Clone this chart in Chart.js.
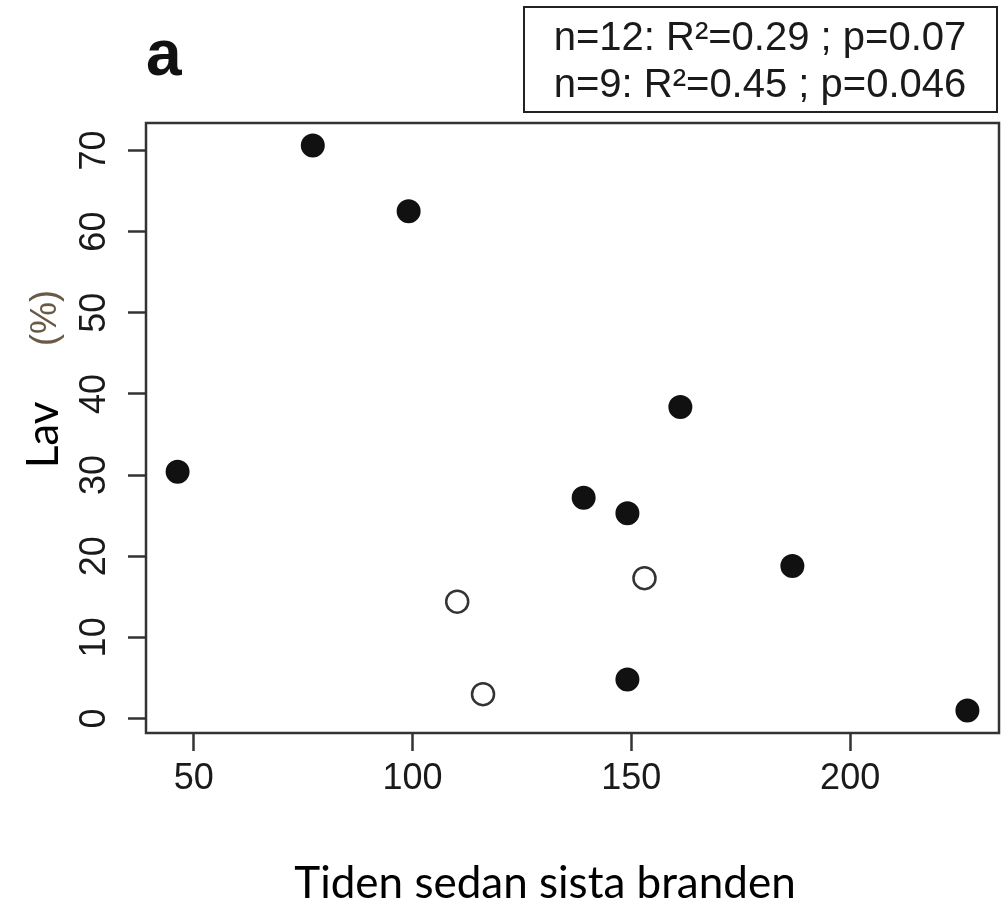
<!DOCTYPE html>
<html>
<head>
<meta charset="utf-8">
<script src="https://cdn.jsdelivr.net/npm/chart.js@4.4.1/dist/chart.umd.min.js"></script>
<style>
  body { margin: 0; background: #fff; }
  canvas { display: block; }
</style>
</head>
<body>
<canvas id="myChart" width="1002" height="906"></canvas>
<script>
// brandfria ytor (fyllda) och ytor med brand (ofyllda)
var filledX = [46.3, 77.2, 99.1, 139.1, 149.1, 149.1, 161.2, 186.8, 226.8];
var filledY = [30.4, 70.6, 62.5, 27.2, 25.3, 4.8, 38.4, 18.8, 1.0];
var openX = [110.2, 116.1, 153.0];
var openY = [14.4, 3.0, 17.3];

var xTicks = [50, 100, 150, 200];
var yTicks = [0, 10, 20, 30, 40, 50, 60, 70];

var statLines = ['n=12: R\u00B2=0.29 ; p=0.07', 'n=9: R\u00B2=0.45 ; p=0.046'];
var panelLabel = 'a';
var xTitle = 'Tiden sedan sista branden';
var yTitle = 'Lav';
var yUnit = '(%)';

function toPoints(xs, ys) {
    var pts = [];
    for (var i = 0; i < xs.length; i++) pts.push({ x: xs[i], y: ys[i] });
    return pts;
}

// R-liknande axelgränser (4 % utökning)
function rRange(vals) {
    var mn = Math.min.apply(null, vals), mx = Math.max.apply(null, vals);
    var d = (mx - mn) * 0.04;
    return [mn - d, mx + d];
}
var xr = rRange(filledX.concat(openX));
var yr = rRange(filledY.concat(openY));

var lineCol = '#333333';
var textCol = '#1a1a1a';

var extrasPlugin = {
    id: 'extras',
    afterDraw: function (chart) {
        var ctx = chart.ctx;
        var a = chart.chartArea;
        var ys = chart.scales.y;
        ctx.save();
        // ram runt plottytan
        ctx.strokeStyle = lineCol;
        ctx.lineWidth = 2.5;
        ctx.strokeRect(a.left, a.top, a.right - a.left, a.bottom - a.top);

        // y-tick-etiketter (roterade som i R)
        ctx.fillStyle = textCol;
        ctx.font = '36px "Liberation Sans", Arial, sans-serif';
        ctx.textAlign = 'center';
        ctx.textBaseline = 'alphabetic';
        yTicks.forEach(function (v) {
            var py = ys.getPixelForValue(v);
            ctx.save();
            ctx.translate(105, py);
            ctx.rotate(-Math.PI / 2);
            ctx.fillText(String(v), 0, 0);
            ctx.restore();
        });

        // y-titel
        ctx.save();
        ctx.translate(58, 435);
        ctx.rotate(-Math.PI / 2);
        ctx.font = '44px Lato, "Open Sans", sans-serif';
        ctx.fillStyle = '#000';
        ctx.fillText(yTitle, 0, 0);
        ctx.restore();

        ctx.save();
        ctx.translate(56, 318);
        ctx.rotate(-Math.PI / 2);
        ctx.font = '36px "Liberation Sans", Arial, sans-serif';
        ctx.fillStyle = '#6a5a45';
        ctx.fillText(yUnit, 0, 0);
        ctx.restore();

        // x-titel
        ctx.font = '44px Lato, "Open Sans", sans-serif';
        ctx.fillStyle = '#000';
        ctx.textAlign = 'center';
        ctx.fillText(xTitle, 545, 898);

        // panelbokstav
        ctx.font = 'bold 64px "Liberation Sans", Arial, sans-serif';
        ctx.fillStyle = '#111';
        ctx.textAlign = 'left';
        ctx.fillText(panelLabel, 146, 75);

        // statistikruta
        ctx.fillStyle = '#fff';
        ctx.fillRect(524, 7, 473, 105);
        ctx.strokeStyle = '#222';
        ctx.lineWidth = 2;
        ctx.strokeRect(524, 7, 473, 105);
        ctx.fillStyle = textCol;
        ctx.font = '40px "Liberation Sans", Arial, sans-serif';
        ctx.textAlign = 'center';
        ctx.fillText(statLines[0], 760, 50);
        ctx.fillText(statLines[1], 760, 97);
        ctx.restore();
    }
};

var ctx = document.getElementById('myChart').getContext('2d');
var myChart = new Chart(ctx, {
    type: 'scatter',
    data: {
        datasets: [{
            label: 'fyllda',
            data: toPoints(filledX, filledY),
            backgroundColor: '#111111',
            borderColor: '#111111',
            borderWidth: 2,
            pointRadius: 11,
            pointHoverRadius: 11
        }, {
            label: 'ofyllda',
            data: toPoints(openX, openY),
            backgroundColor: '#ffffff',
            borderColor: '#333333',
            borderWidth: 2.5,
            pointRadius: 11,
            pointHoverRadius: 11
        }]
    },
    options: {
        responsive: false,
        animation: false,
        devicePixelRatio: 1,
        layout: { autoPadding: false, padding: { top: 123, right: 3, left: 0, bottom: 0 } },
        plugins: {
            legend: { display: false },
            tooltip: { enabled: false }
        },
        scales: {
            x: {
                type: 'linear',
                min: xr[0],
                max: xr[1],
                afterBuildTicks: function (scale) {
                    scale.ticks = xTicks.map(function (v) { return { value: v }; });
                },
                afterFit: function (scale) {
                    scale.height = 173;
                    scale.paddingLeft = 0;
                    scale.paddingRight = 0;
                },
                border: { display: false },
                grid: {
                    drawOnChartArea: false,
                    drawTicks: true,
                    tickLength: 18,
                    tickWidth: 2.5,
                    tickColor: lineCol
                },
                ticks: {
                    color: textCol,
                    padding: 6,
                    maxRotation: 0,
                    font: { family: '"Liberation Sans", Arial, sans-serif', size: 36 }
                }
            },
            y: {
                type: 'linear',
                min: yr[0],
                max: yr[1],
                afterBuildTicks: function (scale) {
                    scale.ticks = yTicks.map(function (v) { return { value: v }; });
                },
                afterFit: function (scale) {
                    scale.width = 146;
                    scale.paddingTop = 0;
                    scale.paddingBottom = 0;
                },
                border: { display: false },
                grid: {
                    drawOnChartArea: false,
                    drawTicks: true,
                    tickLength: 18,
                    tickWidth: 2.5,
                    tickColor: lineCol
                },
                ticks: { display: false }
            }
        }
    },
    plugins: [extrasPlugin]
});
</script>
</body>
</html>
